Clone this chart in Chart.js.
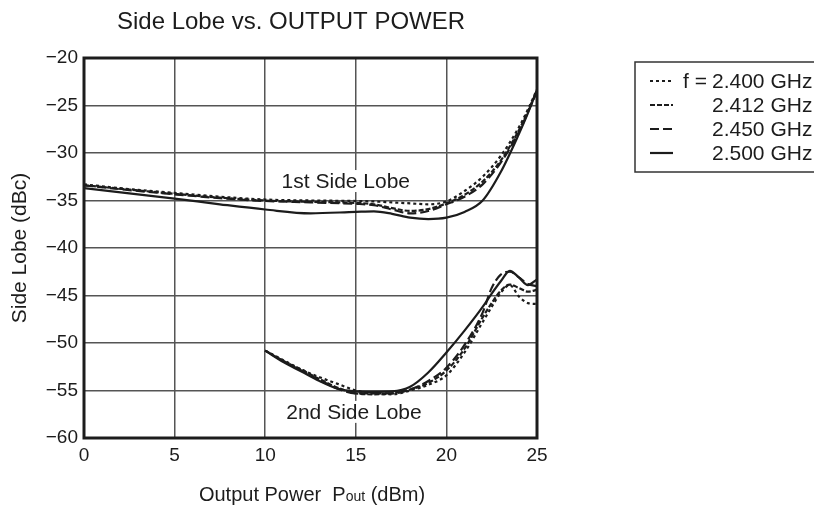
<!DOCTYPE html>
<html><head><meta charset="utf-8">
<script src="https://cdn.jsdelivr.net/npm/chart.js@4/dist/chart.umd.min.js"></script>
<style>html,body{margin:0;padding:0;background:#fff}#wrap{position:relative;width:814px;height:511px}</style>
</head><body><div id="wrap"><canvas id="c" width="814" height="511"></canvas></div>
<script>
// ---- data ----
const freqLabels = ['2.400 GHz', '2.412 GHz', '2.450 GHz', '2.500 GHz'];
const legendPrefix = 'f =';

const lobe1Power = [0, 2.5, 5, 7.5, 10, 12.5, 15, 16, 17, 18, 19, 20, 21, 22, 23, 24, 24.5, 25];
const lobe1_2400 = [-33.3, -33.8, -34.2, -34.6, -34.9, -35.0, -35.05, -35.1, -35.2, -35.3, -35.4, -35.1, -34.0, -32.5, -30.3, -27.3, -25.4, -23.3];
const lobe1_2412 = [-33.4, -33.85, -34.3, -34.7, -35.0, -35.15, -35.25, -35.4, -35.8, -36.1, -35.9, -35.3, -34.4, -33.0, -30.8, -27.6, -25.6, -23.4];
const lobe1_2450 = [-33.4, -33.9, -34.35, -34.75, -35.05, -35.2, -35.35, -35.5, -35.95, -36.35, -36.1, -35.4, -34.6, -33.3, -31.0, -27.8, -25.7, -23.5];
const lobe1_2500 = [-33.7, -34.25, -34.8, -35.4, -35.95, -36.35, -36.2, -36.15, -36.4, -36.8, -36.95, -36.8, -36.2, -35.0, -32.0, -28.0, -25.8, -23.4];

const lobe2Power = [10, 11, 12, 13, 14, 15, 16, 17, 18, 19, 20, 21, 22, 22.5, 23, 23.5, 24, 24.5, 25];
const lobe2_2400 = [-50.8, -51.8, -52.8, -53.6, -54.3, -55.0, -55.3, -55.4, -55.0, -54.4, -53.4, -51.0, -47.8, -46.2, -44.7, -43.9, -45.1, -45.8, -45.9];
const lobe2_2412 = [-50.8, -51.9, -52.8, -53.8, -54.7, -55.3, -55.4, -55.3, -54.9, -54.2, -52.9, -50.6, -47.3, -45.8, -44.5, -43.85, -44.2, -44.6, -44.4];
const lobe2_2450 = [-50.8, -51.9, -52.9, -53.9, -54.8, -55.3, -55.3, -55.3, -54.9, -54.0, -52.6, -50.2, -46.8, -44.2, -42.8, -42.5, -43.1, -43.8, -44.0];
const lobe2_2500 = [-50.8, -52.0, -53.0, -54.0, -54.8, -55.1, -55.15, -55.1, -54.6, -53.1, -51.0, -48.7, -46.2, -44.8, -43.5, -42.4, -43.1, -43.9, -43.3];

const xTickValues = [0, 5, 10, 15, 20, 25];
const yTickValues = [-20, -25, -30, -35, -40, -45, -50, -55, -60];

const titleText = 'Side Lobe vs. OUTPUT POWER';
const yTitle = 'Side Lobe (dBc)';
const lobeNotes = [{ text: '1st Side Lobe', x: 14.45, y: -32.95 }, { text: '2nd Side Lobe', x: 14.9, y: -57.25 }];

// ---- styles ----
const FONT = '"Liberation Sans", Arial, Helvetica, sans-serif';
const INK = '#1c1c1c';
const dashes = [[3, 3], [5, 2], [9, 4], []];

function pts(xs, ys) { return xs.map((x, i) => ({ x: x, y: ys[i] })); }
const lobe1 = [lobe1_2400, lobe1_2412, lobe1_2450, lobe1_2500];
const lobe2 = [lobe2_2400, lobe2_2412, lobe2_2450, lobe2_2500];
const datasets = [];
freqLabels.forEach((f, i) => {
  [[lobe1Power, lobe1[i]], [lobe2Power, lobe2[i]]].forEach(([xs, ys]) => {
    datasets.push({
      label: f, data: pts(xs, ys), borderColor: INK, borderWidth: 2.2,
      borderDash: dashes[i], pointRadius: 0, fill: false,
      cubicInterpolationMode: 'monotone'
    });
  });
});

const decor = {
  id: 'decor',
  beforeDatasetsDraw(chart) {
    const ctx = chart.ctx, xs = chart.scales.x, ys = chart.scales.y;
    ctx.save();
    ctx.font = '21px ' + FONT;
    ctx.textAlign = 'center'; ctx.textBaseline = 'middle';
    lobeNotes.forEach(n => {
      const px = xs.getPixelForValue(n.x), py = ys.getPixelForValue(n.y);
      const w = ctx.measureText(n.text).width;
      ctx.fillStyle = '#fff';
      ctx.fillRect(px - w / 2 - 3, py - 11, w + 6, 22);
      ctx.fillStyle = INK;
      ctx.fillText(n.text, px, py + 1);
    });
    ctx.restore();
  },
  afterDraw(chart) {
    const ctx = chart.ctx, a = chart.chartArea;
    ctx.save();
    // frame
    ctx.strokeStyle = INK; ctx.lineWidth = 3;
    ctx.strokeRect(a.left, a.top, a.right - a.left, a.bottom - a.top);
    // title
    ctx.fillStyle = INK; ctx.textBaseline = 'middle'; ctx.textAlign = 'center';
    ctx.font = '24px ' + FONT;
    ctx.fillText(titleText, 291, 22);
    // y title
    ctx.font = '21px ' + FONT;
    ctx.save(); ctx.translate(20, 248); ctx.rotate(-Math.PI / 2);
    ctx.fillText(yTitle, 0, 0); ctx.restore();
    // x title with subscript
    const big = '20px ' + FONT, small = '14px ' + FONT;
    const p1 = 'Output Power  P', p2 = 'out', p3 = ' (dBm)';
    ctx.font = big; const w1 = ctx.measureText(p1).width, w3 = ctx.measureText(p3).width;
    ctx.font = small; const w2 = ctx.measureText(p2).width;
    let x0 = 312 - (w1 + w2 + w3) / 2, yb = 495;
    ctx.textAlign = 'left';
    ctx.font = big; ctx.fillText(p1, x0, yb);
    ctx.font = small; ctx.fillText(p2, x0 + w1, yb + 2);
    ctx.font = big; ctx.fillText(p3, x0 + w1 + w2, yb);
    // legend
    ctx.lineWidth = 1.5; ctx.strokeStyle = '#333';
    ctx.strokeRect(635, 62, 200, 110);
    const rows = [81, 105, 129, 153];
    ctx.font = '21px ' + FONT;
    freqLabels.forEach((f, i) => {
      ctx.save();
      ctx.strokeStyle = INK; ctx.lineWidth = 2.2; ctx.setLineDash(dashes[i]);
      ctx.beginPath(); ctx.moveTo(650, rows[i]); ctx.lineTo(673, rows[i]); ctx.stroke();
      ctx.restore();
      ctx.textAlign = 'left'; ctx.fillStyle = INK;
      ctx.fillText(f, 712, rows[i] + 1);
      if (i === 0) { ctx.textAlign = 'right'; ctx.fillText(legendPrefix, 707, rows[i] + 1); }
    });
    ctx.restore();
  }
};

new Chart(document.getElementById('c'), {
  type: 'line',
  data: { datasets: datasets },
  options: {
    responsive: false, animation: false, devicePixelRatio: 1,
    layout: { padding: { left: 0, top: 58, right: 277, bottom: 0 } },
    plugins: { legend: { display: false }, tooltip: { enabled: false }, title: { display: false } },
    scales: {
      x: {
        type: 'linear', min: 0, max: 25,
        afterBuildTicks: s => { s.ticks = xTickValues.map(v => ({ value: v })); },
        afterFit: s => { s.height = 73; },
        ticks: { font: { size: 19, family: FONT }, color: INK, padding: 6 },
        grid: { color: '#555', lineWidth: 1.5, drawTicks: false },
        border: { display: false }
      },
      y: {
        type: 'linear', min: -60, max: -20,
        afterBuildTicks: s => { s.ticks = yTickValues.map(v => ({ value: v })); },
        afterFit: s => { s.width = 84; },
        ticks: { font: { size: 19, family: FONT }, color: INK, padding: 6,
          callback: v => String(v).replace('-', '\u2212') },
        grid: { color: '#555', lineWidth: 1.5, drawTicks: false },
        border: { display: false }
      }
    }
  },
  plugins: [decor]
});
</script></body></html>
